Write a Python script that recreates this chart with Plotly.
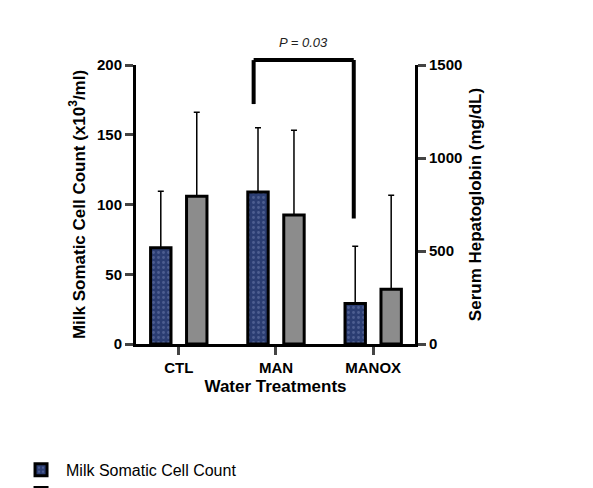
import plotly.graph_objects as go

categories = ["CTL", "MAN", "MANOX"]
scc = [69, 109, 29]
scc_err = [40.5, 46, 41]
hp = [794, 693, 294]
hp_err = [452, 456, 506]

xc = list(range(len(categories)))
fig = go.Figure()
fig.add_trace(go.Bar(
    x=[c - 0.185 for c in xc], y=scc, width=0.21, name="Milk Somatic Cell Count",
    marker=dict(color="#2b3d72", line=dict(color="black", width=3),
                pattern=dict(shape=".", fgcolor="#6f7fb0", bgcolor="#2b3d72", size=5, solidity=0.25)),
    error_y=dict(type="data", array=scc_err, arrayminus=[0]*3, symmetric=False,
                 color="black", thickness=1.5, width=3), yaxis="y"))
fig.add_trace(go.Bar(
    x=[c + 0.185 for c in xc], y=hp, width=0.21, name="Serum Hepatoglobin",
    marker=dict(color="#8c8c8c", line=dict(color="black", width=3)),
    error_y=dict(type="data", array=hp_err, arrayminus=[0]*3, symmetric=False,
                 color="black", thickness=1.5, width=3), yaxis="y2"))

YMAX = 200.0
bracket = [(0.77, 172, 0.77, 203.5), (0.77, 203.5, 1.8, 203.5), (1.8, 203.5, 1.8, 90)]
for x0, y0, x1, y1 in bracket:
    fig.add_shape(type="line", xref="x", yref="paper", x0=x0, x1=x1, y0=y0 / YMAX, y1=y1 / YMAX,
                  line=dict(color="black", width=4))
fig.add_annotation(x=1.28, y=209 / YMAX, xref="x", yref="paper", yanchor="bottom",
                   text="<i>P = 0.03</i>", showarrow=False, font=dict(size=13, color="#222"))

font = "Liberation Sans, Arial"
tf = dict(size=15, family=font, weight="bold")
fig.update_layout(
    width=593, height=488, margin=dict(l=128, r=186, t=57, b=152, autoexpand=False),
    plot_bgcolor="white", paper_bgcolor="white", barmode="overlay",
    font=dict(family=font, color="black"),
    xaxis=dict(range=[-0.44, 2.43], tickvals=xc, ticktext=categories, showline=True, automargin=False,
               linecolor="black", linewidth=3, ticks="outside", ticklen=8, tickwidth=3,
               tickfont=tf, zeroline=False, showgrid=False,
               title=dict(text="<b>Water Treatments</b>", font=dict(size=17), standoff=6)),
    yaxis=dict(range=[0, 200], tickvals=[0, 50, 100, 150, 200], showline=True, linecolor="black",
               linewidth=3, ticks="outside", ticklen=8, tickwidth=3, showgrid=False, zeroline=False,
               tickfont=tf, automargin=False,
               title=dict(text="<b>Milk Somatic Cell Count (x10<sup>3</sup>/ml)</b>", font=dict(size=17), standoff=8)),
    yaxis2=dict(range=[0, 1500], tickvals=[0, 500, 1000, 1500], overlaying="y", side="right",
                showline=True, linecolor="black", linewidth=3, ticks="outside", ticklen=8, tickwidth=3,
                showgrid=False, zeroline=False, tickfont=tf, automargin=False,
                title=dict(text="<b>Serum Hepatoglobin (mg/dL)</b>", font=dict(size=17), standoff=8)),
    legend=dict(orientation="h", x=-0.43, y=-0.39, xanchor="left", yanchor="top",
                font=dict(size=16), itemwidth=40, entrywidth=275),
)
fig.write_html("out.html")
